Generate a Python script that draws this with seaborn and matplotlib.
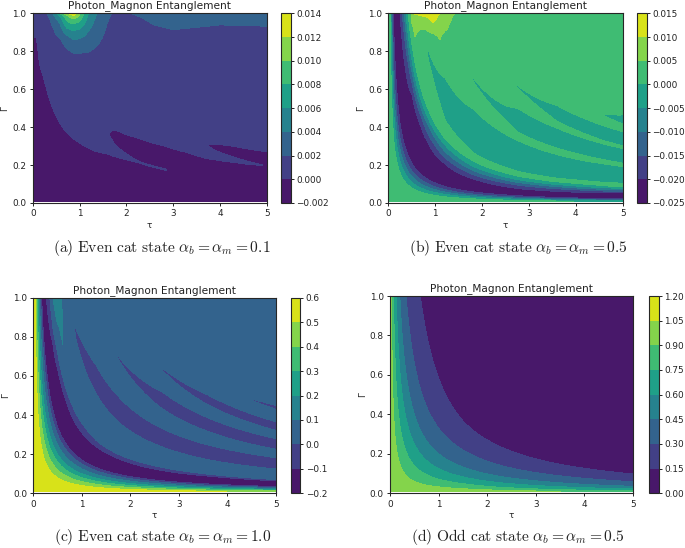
import numpy as np
import matplotlib
matplotlib.use("Agg")
import matplotlib.pyplot as plt
import seaborn as sns

TITLE = "Photon_Magnon Entanglement"
captions = [r"$\mathrm{(a)\ Even\ cat\ state}\ \alpha_b=\alpha_m=0.1$",
            r"$\mathrm{(b)\ Even\ cat\ state}\ \alpha_b=\alpha_m=0.5$",
            r"$\mathrm{(c)\ Even\ cat\ state}\ \alpha_b=\alpha_m=1.0$",
            r"$\mathrm{(d)\ Odd\ cat\ state}\ \alpha_b=\alpha_m=0.5$"]

levels_a = [-0.002, 0.0, 0.002, 0.004, 0.006, 0.008, 0.010, 0.012, 0.014]
levels_b = [-0.025, -0.020, -0.015, -0.010, -0.005, 0.0, 0.005, 0.010, 0.015]
levels_c = [-0.2, -0.1, 0.0, 0.1, 0.2, 0.3, 0.4, 0.5, 0.6]
levels_d = [0.0, 0.15, 0.30, 0.45, 0.60, 0.75, 0.90, 1.05, 1.20]

# Values: each tau column lists u = tau*Gamma knots and the value there.
# Panel (a), lower field
tau_a = [.01, .05, .1, .23, .3, .43, .58, .73, 1.01, 1.37, 1.61, 1.76, 2.25, 2.86, 3.3, 3.71, 3.93, 4.28, 4.9, 5]
u_a = [[0, .005, .45, 5], [0, .047, .5, 5], [0, .084, .53, 5], [0, .153, .6, 5], [0, .18, .63, 5], [0, .215, .66, 5],
       [0, .244, .69, 5], [0, .27, .72, 5], [0, .318, .77, 5], [0, .37, .82, 5],
       [0, .415, .5, .59, .7, 1.15, 5],
       [0, .43, .485, .54, .61, .68, 1.13, 5],
       [0, .48, .49, .50, .63, .77, 1.2, 5],
       [0, .49, .50, .51, .68, .85, 1.3, 5],
       [0, .5, .88, 1.3, 5],
       [0, .87, 1.0, 1.13, 1.25, 1.7, 5],
       [0, .89, .985, 1.08, 1.15, 1.22, 1.7, 5],
       [0, .92, .98, 1.04, 1.16, 1.28, 1.7, 5],
       [0, .975, .98, .985, 1.16, 1.34, 1.8, 5],
       [0, .98, 1.35, 1.8, 5]]
z_a = [[-.0002, 0, .0018, .0018], [-.0002, 0, .0018, .0018], [-.0003, 0, .0018, .0018], [-.0006, 0, .0018, .0018],
       [-.0007, 0, .0018, .0018], [-.0009, 0, .0018, .0018],
       [-.001, 0, .0018, .0018], [-.0011, 0, .0018, .0018], [-.0013, 0, .0018, .0018], [-.0015, 0, .0018, .0018],
       [-.0017, 0, .0005, .00001, .0004, .0018, .0018],
       [-.0017, 0, .0002, 0, -.0003, 0, .0018, .0018],
       [-.0019, 0, .00004, 0, -.0005, 0, .0018, .0018],
       [-.0019, 0, .00002, 0, -.0007, 0, .0018, .0018],
       [-.0019, -.0009, 0, .0017, .0018],
       [-.0019, 0, .0005, .00001, .0005, .0018, .0018],
       [-.0019, 0, .0004, 0, -.0003, 0, .0018, .0018],
       [-.0019, 0, .00025, 0, -.0005, 0, .0017, .0018],
       [-.0019, 0, .00002, 0, -.0007, 0, .0018, .0018],
       [-.0019, -.0008, 0, .0018, .0018]]
# Panel (a), upper field against Gamma
tau_a_top = [.01, .2, .3, .43, .58, .73, .87, 1.01, 1.19, 1.37, 1.69, 2.08, 2.6, 3, 3.5, 4, 5]
gamma_a_top = [.5, .7, .79, .86, .908, .944, .97, .988, 1]
z_a_top = [[-.01] * 9, [-.01] * 9,
           [-.01, .0002, .0003, .0005, .0008, .001, .0012, .0015, .002],
           [-.01, .0005, .0008, .0014, .0017, .0023, .0028, .0034, .004],
           [-.01, .0007, .0012, .0018, .0030, .0038, .0050, .0062, .008],
           [-.01, .001, .0015, .0028, .0052, .0072, .0085, .0098, .0122],
           [-.01, .001, .002, .004, .006, .008, .010, .012, .0138],
           [-.01, .001, .002, .0037, .0055, .0072, .0086, .0095, .0100],
           [-.01, .001, .0019, .0032, .004, .0048, .0052, .0056, .006],
           [-.01, .001, .0015, .0024, .003, .0033, .0036, .0038, .004],
           [-.01, .0008, .0009, .001, .0012, .0014, .0016, .0018, .002],
           [-.01, .0008, .0009, .001, .0012, .0014, .0016, .0018, .002],
           [-.01, .0008, .001, .0013, .0017, .00205, .0023, .0025, .0028],
           [-.01, .0008, .001, .0014, .00195, .0023, .0025, .0027, .003],
           [-.01, .0008, .001, .0014, .0018, .0022, .0025, .0027, .003],
           [-.01, .0008, .001, .0013, .0017, .00205, .0023, .0026, .003],
           [-.01, .0008, .001, .0013, .0018, .0021, .0024, .0027, .003]]

# Panel (b), lower field
u_low_b = [0, .04, .055, .07, .085, .105, .18]
z_low_b = [.003, 0, -.005, -.01, -.015, -.02, -.024]
tau_b = [.01, .25, .5, .7, .84, 1.21, 1.81, 2.79, 3.6, 4.59, 5]
u_tail_b = [[.25, .29, .33, .37, .42, .5, 5],
            [.25, .29, .33, .37, .42, .5, 5],
            [.29, .32, .35, .38, .42, .5, 5],
            [.28, .32, .35, .38, .42, .5, 5],
            [.27, .31, .35, .38, .42, .52, .67, .8, 5],
            [.25, .29, .33, .37, .41, .46, .53, .665, .8, .92, 5],
            [.23, .27, .31, .35, .40, .44, .48, .7, .9, 1.04, 1.18, 1.3, 5],
            [.21, .26, .30, .34, .39, .42, .46, .68, .91, .98, 1.03, 1.2, 1.38, 1.54, 1.69, 1.85, 5],
            [.22, .27, .31, .35, .40, .43, .47, .7, .92, .98, 1.04, 1.23, 1.42, 1.48, 1.55, 1.7, 1.85, 2, 5],
            [.25, .29, .33, .37, .42, .46, .5, .73, .95, 1.0, 1.05, 1.24, 1.43, 1.47, 1.51, 1.7, 1.87, 2, 2.13, 2.3, 5],
            [.27, .31, .35, .38, .42, .47, .52, .74, .96, 1.0, 1.05, 1.245, 1.44, 1.48, 1.51, 1.7, 1.88, 1.98, 2.08, 2.2, 2.32, 2.5, 5]]
z_tail_b = [[-.02, -.015, -.01, -.005, 0, .003, .003],
            [-.02, -.015, -.01, -.005, 0, .003, .003],
            [-.02, -.015, -.01, -.005, 0, .003, .003],
            [-.02, -.015, -.01, -.005, 0, .003, .003],
            [-.02, -.015, -.01, -.005, 0, .003, -.0004, .003, .003],
            [-.02, -.015, -.01, -.005, 0, .002, 0, -.002, 0, .003, .003],
            [-.02, -.015, -.01, -.005, 0, .001, 0, -.003, 0, .003, -.0004, .003, .003],
            [-.02, -.015, -.01, -.005, 0, .001, 0, -.003, 0, .002, 0, -.002, 0, .003, -.0004, .003, .003],
            [-.02, -.015, -.01, -.005, 0, .001, 0, -.003, 0, .002, 0, -.003, 0, .002, 0, -.002, 0, .003, .003],
            [-.02, -.015, -.01, -.005, 0, .001, 0, -.003, 0, .002, 0, -.003, 0, .002, 0, -.003, 0, .003, -.0004, .003, .003],
            [-.02, -.015, -.01, -.005, 0, .001, 0, -.003, 0, .002, 0, -.003, 0, .002, 0, -.003, 0, .002, 0, -.002, 0, .003, .003]]
# Panel (b), upper field against Gamma
tau_b_top = [.01, .4, .5, .57, .68, .78, .96, 1.1, 1.24, 1.42, 1.6, 5]
gamma_b_top = [.5, .86, .877, .916, .95, .98, 1]
z_b_top = [[-.03] * 7, [-.03] * 7,
           [-.03, .001, .002, .0035, .005, .008, .01],
           [-.03, .003, .005, .0062, .0075, .0085, .0105],
           [-.03, .002, .003, .005, .0075, .0095, .011],
           [-.03, .002, .003, .005, .0075, .0095, .0115],
           [-.03, .003, .004, .0065, .01, .0115, .012],
           [-.03, .005, .0055, .0065, .008, .009, .01],
           [-.03, .002, .003, .0052, .0065, .0072, .0078],
           [-.03, .001, .001, .002, .003, .004, .005],
           [-.03] * 7, [-.03] * 7]

# Panel (c)
u_low_c = [0, .04, .06, .08, .10, .125, .15, .17, .24]
z_low_c = [.59, .5, .4, .3, .2, .1, 0, -.1, -.16]
tau_c = [.01, .27, .4, .5, .57, .62, .7, .87, 1.3, 1.77, 2.68, 3.6, 4.5, 5]
u_tail_c = [[.27, .34, .5, 5],
            [.27, .34, .5, 5],
            [.31, .34, .4, .43, .6, 5],
            [.32, .36, .43, .5, .7, 5],
            [.32, .36, .46, .52, .6, 5],
            [.32, .36, .465, .6, 5],
            [.32, .36, .45, 5],
            [.31, .36, .5, .72, .85, 5],
            [.31, .35, .5, .66, .76, .85, 1.0, 5],
            [.31, .35, .5, .64, .755, .87, 1.05, 1.22, 1.35, 5],
            [.31, .35, .5, .63, .755, .88, 1.02, 1.15, 1.265, 1.38, 1.53, 1.69, 1.85, 5],
            [.32, .35, .5, .62, .755, .89, 1.02, 1.14, 1.265, 1.39, 1.51, 1.63, 1.72, 1.81, 2.0, 5],
            [.32, .35, .5, .62, .76, .905, 1.02, 1.13, 1.265, 1.395, 1.5, 1.615, 1.72, 1.825, 2.0, 2.16, 2.3, 5],
            [.32, .35, .5, .62, .765, .91, 1.02, 1.13, 1.265, 1.40, 1.5, 1.61, 1.72, 1.83, 2.0, 2.15, 2.2, 2.25, 2.4, 5]]
z_tail_c = [[-.1, 0, .05, .05],
            [-.1, 0, .05, .05],
            [-.1, 0, .1, .125, .125, .05],
            [-.1, 0, .1, .125, .08, .05],
            [-.1, 0, .1, .11, .1, .05],
            [-.1, 0, .1, .09, .05],
            [-.1, 0, .05, .05],
            [-.1, 0, .05, -.006, .04, .05],
            [-.1, 0, .05, 0, -.04, 0, .05, .05],
            [-.1, 0, .05, 0, -.045, 0, .05, -.006, .05, .05],
            [-.1, 0, .05, 0, -.05, 0, .05, 0, -.04, 0, .05, -.006, .05, .05],
            [-.1, 0, .05, 0, -.05, 0, .05, 0, -.05, 0, .05, 0, -.03, 0, .05, .05],
            [-.1, 0, .05, 0, -.05, 0, .05, 0, -.05, 0, .05, 0, -.04, 0, .05, -.006, .05, .05],
            [-.1, 0, .05, 0, -.05, 0, .05, 0, -.05, 0, .05, 0, -.04, 0, .05, 0, -.02, 0, .05, .05]]

# Panel (d)
tau_d = [.01, .5, 1.5, 5]
u_d = [0, .03, .07, .125, .2, .33, .6, .8, 5]
z_d = [[1.0, .9, .75, .6, .45, .3, .165, .08, .03],
       [1.0, .9, .75, .6, .45, .3, .165, .08, .03],
       [1.0, .92, .76, .6, .45, .3, .116, .06, .03],
       [1.0, .93, .70, .56, .40, .26, .074, .04, .03]]

sns.set_theme(style="ticks")
plt.rcParams.update({"mathtext.fontset": "cm", "font.family": "DejaVu Sans",
                     "axes.linewidth": 0.8, "xtick.major.size": 2.5, "ytick.major.size": 2.5,
                     "xtick.major.width": 0.7, "ytick.major.width": 0.7})
viridis = sns.color_palette("viridis", as_cmap=True)

tau_grid = np.linspace(0.01, 5, 500)
gamma_grid = np.linspace(0.01, 1, 600)
T, G = np.meshgrid(tau_grid, gamma_grid)


def field(cols, knots, values, V):
    stack = np.array([np.interp(V, k, v) for k, v in zip(knots, values)])
    i = np.clip(np.searchsorted(cols, T, side="right") - 1, 0, len(cols) - 2)
    c = np.asarray(cols)
    w = np.clip((T - c[i]) / (c[i + 1] - c[i]), 0, 1)
    rows, columns = np.indices(T.shape)
    return (1 - w) * stack[i, rows, columns] + w * stack[i + 1, rows, columns]


U = T * G
Z_a = np.maximum(field(tau_a, u_a, z_a, U),
                 field(tau_a_top, [gamma_a_top] * len(tau_a_top), z_a_top, G))
Z_b = np.maximum(field(tau_b, [u_low_b + t for t in u_tail_b], [z_low_b + t for t in z_tail_b], U),
                 field(tau_b_top, [gamma_b_top] * len(tau_b_top), z_b_top, G))
Z_c = field(tau_c, [u_low_c + t for t in u_tail_c], [z_low_c + t for t in z_tail_c], U)
Z_d = field(tau_d, [u_d] * len(tau_d), z_d, U)

W, H = 685, 548
fig = plt.figure(figsize=(W / 100, H / 100), dpi=100)


def px_axes(x0, x1, y0, y1):
    return fig.add_axes([x0 / W, 1 - y1 / H, (x1 - x0) / W, (y1 - y0) / H])


panels = [
    (Z_a, levels_a, (32.7, 266.7, 13.3, 203), (281, 291), (162, 248)),
    (Z_b, levels_b, (388.3, 622.7, 13.3, 203), (637, 647), (518, 248)),
    (Z_c, levels_c, (33.3, 275.7, 297.7, 493.3), (291, 300.3), (163, 537)),
    (Z_d, levels_d, (390, 633, 296, 493.3), (648.7, 658.7), (518, 537)),
]
for (Z, levels, box, cb, cap), caption in zip(panels, captions):
    ax = px_axes(*box)
    cf = ax.contourf(T, G, Z, levels=levels, cmap=viridis)
    ax.set_xlim(0, 5)
    ax.set_ylim(0, 1)
    ax.set_xticks([0, 1, 2, 3, 4, 5])
    ax.set_yticks([0, .2, .4, .6, .8, 1])
    ax.tick_params(labelsize=6.4, pad=2, color="#222222", labelcolor="#222222")
    ax.set_title(TITLE, fontsize=7.6, pad=3.5, color="#222222")
    ax.set_xlabel("τ", fontsize=6.4, labelpad=2, color="#222222")
    ax.set_ylabel("Γ", fontsize=6.4, labelpad=2, color="#222222")
    cax = px_axes(cb[0], cb[1], box[2], box[3])
    cbar = fig.colorbar(cf, cax=cax, ticks=levels)
    cbar.ax.tick_params(labelsize=6.4, pad=1.5, color="#222222", labelcolor="#222222")
    fig.text(cap[0] / W, 1 - cap[1] / H, caption, ha="center", va="center", fontsize=11.2, color="#222222")

fig.savefig("out.png", dpi=100)
